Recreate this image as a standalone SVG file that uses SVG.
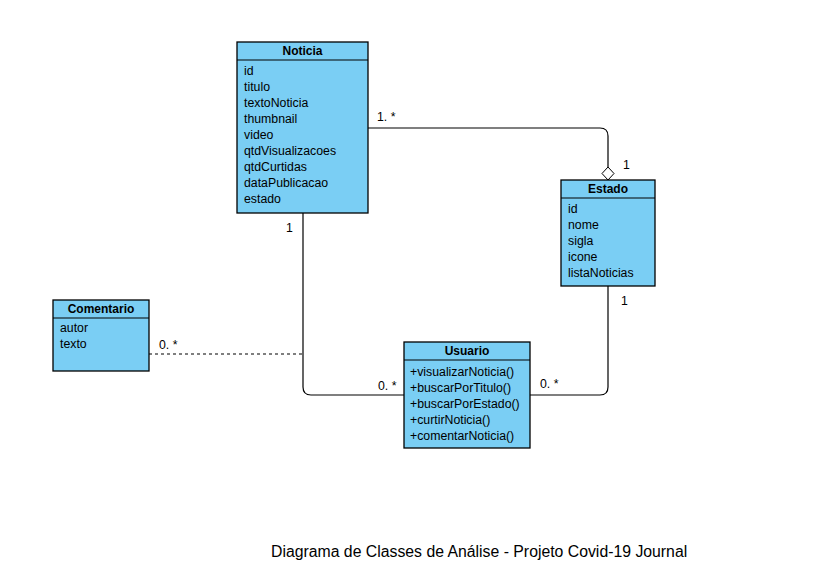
<svg xmlns="http://www.w3.org/2000/svg" width="836" height="579" viewBox="0 0 836 579">
<style>
.box{fill:#7ACEF4;stroke:#000;stroke-width:1.3}
.sep{stroke:#000;stroke-width:1}
.t{font-family:"Liberation Sans",Arial,sans-serif;font-size:12.3px;fill:#000}
.h{font-family:"Liberation Sans",Arial,sans-serif;font-size:12px;font-weight:bold;fill:#000;text-anchor:middle}
.c{fill:none;stroke:#000;stroke-width:1.2}
.d{fill:none;stroke:#000;stroke-width:1.2;stroke-dasharray:3,3}
</style>
<rect width="836" height="579" fill="#fff"/>
<g id="connectors">
<path class="c" d="M368,128 H600 Q608,128 608,136 V167"/>
<path d="M608,167 L614,173.5 L608,180 L602,173.5 Z" fill="#fff" stroke="#000" stroke-width="1"/>
<path class="c" d="M303,213 V387 Q303,395 311,395 H404"/>
<path class="c" d="M608,286 V387 Q608,395 600,395 H530"/>
<path class="d" d="M149,354 H303"/>
<text class="t" x="377" y="121">1. *</text>
<text class="t" x="623" y="169">1</text>
<text class="t" x="286" y="232">1</text>
<text class="t" x="378" y="390">0. *</text>
<text class="t" x="159" y="349">0. *</text>
<text class="t" x="621" y="305">1</text>
<text class="t" x="540" y="388">0. *</text>
</g>
<g id="Noticia">
<rect class="box" x="237" y="42" width="131" height="171"/>
<line class="sep" x1="237" y1="60" x2="368" y2="60"/>
<text class="h" x="302.5" y="55">Noticia</text>
<text class="t" x="244" y="75">id</text>
<text class="t" x="244" y="91">titulo</text>
<text class="t" x="244" y="107">textoNoticia</text>
<text class="t" x="244" y="123">thumbnail</text>
<text class="t" x="244" y="139">video</text>
<text class="t" x="244" y="155">qtdVisualizacoes</text>
<text class="t" x="244" y="171">qtdCurtidas</text>
<text class="t" x="244" y="187">dataPublicacao</text>
<text class="t" x="244" y="203">estado</text>
</g>
<g id="Estado">
<rect class="box" x="561" y="180" width="94" height="106"/>
<line class="sep" x1="561" y1="198" x2="655" y2="198"/>
<text class="h" x="608" y="193">Estado</text>
<text class="t" x="568" y="213">id</text>
<text class="t" x="568" y="229">nome</text>
<text class="t" x="568" y="245">sigla</text>
<text class="t" x="568" y="261">icone</text>
<text class="t" x="568" y="277">listaNoticias</text>
</g>
<g id="Comentario">
<rect class="box" x="53" y="300" width="96" height="71"/>
<line class="sep" x1="53" y1="318" x2="149" y2="318"/>
<text class="h" x="101" y="313">Comentario</text>
<text class="t" x="60" y="332">autor</text>
<text class="t" x="60" y="348">texto</text>
</g>
<g id="Usuario">
<rect class="box" x="404" y="342" width="126" height="106"/>
<line class="sep" x1="404" y1="360" x2="530" y2="360"/>
<text class="h" x="467" y="355">Usuario</text>
<text class="t" x="410" y="376">+visualizarNoticia()</text>
<text class="t" x="410" y="392">+buscarPorTitulo()</text>
<text class="t" x="410" y="408">+buscarPorEstado()</text>
<text class="t" x="410" y="424">+curtirNoticia()</text>
<text class="t" x="410" y="440">+comentarNoticia()</text>
</g>
<text x="271" y="557" style="font-family:'Liberation Sans',Arial,sans-serif;font-size:15.8px;fill:#000">Diagrama de Classes de Análise - Projeto Covid-19 Journal</text>
</svg>
